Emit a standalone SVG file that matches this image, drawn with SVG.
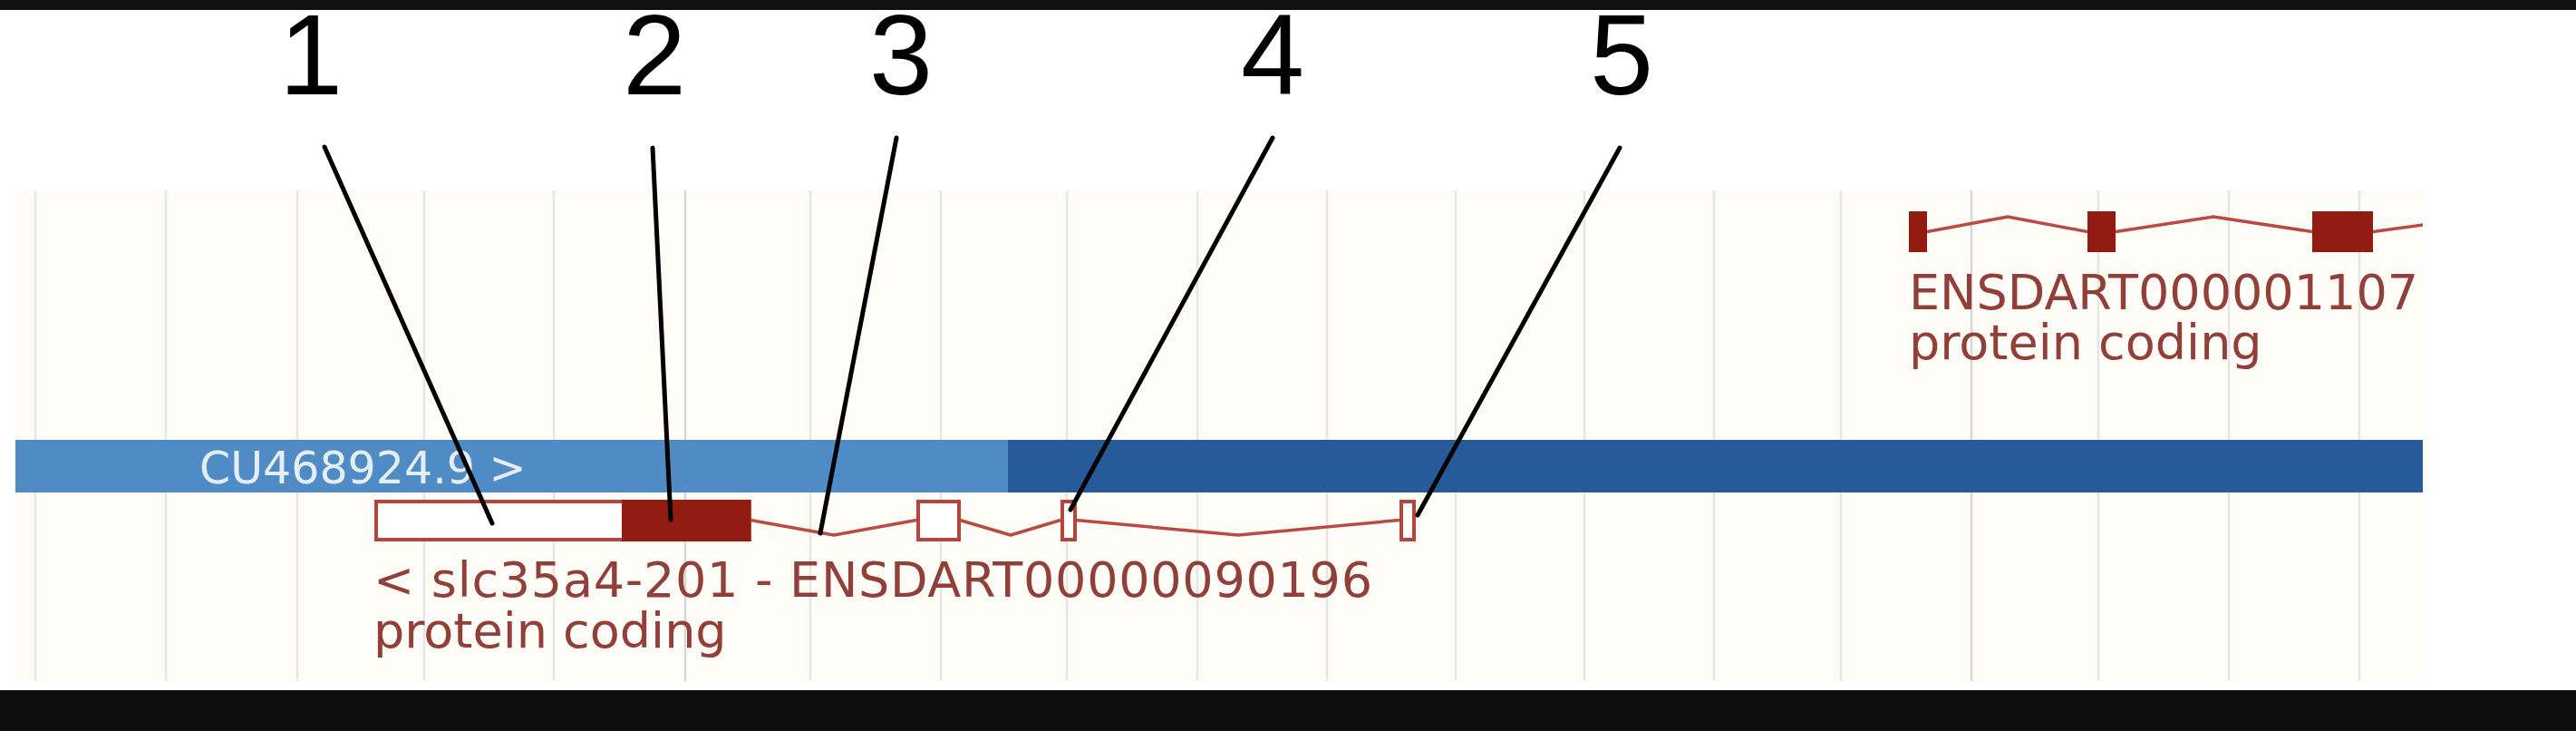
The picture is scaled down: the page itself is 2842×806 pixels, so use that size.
<svg xmlns="http://www.w3.org/2000/svg" width="2842" height="806" viewBox="0 0 2842 806">
  <defs>
    <style>
      .grid { stroke: #e5e6e8; stroke-width: 2.5; }
      .grid-major { stroke: #d5d7db; stroke-width: 2.5; }
      .exon { fill: #931c12; }
      .utr { fill: #ffffff; stroke: #b5463e; stroke-width: 4; }
      .intron { fill: none; stroke: #b84c45; stroke-width: 3.5; stroke-linejoin: round; }
      .tlabel { font-family: "DejaVu Sans", Verdana, sans-serif; font-size: 54px; fill: #923e39; }
      .blabel { font-family: "DejaVu Sans", Verdana, sans-serif; font-size: 49px; fill: #ffffff; fill-opacity: 0.85; }
      .num { font-family: "Liberation Sans", Arial, sans-serif; font-size: 126px; fill: #000000; text-anchor: middle; }
      .leader { stroke: #000000; stroke-width: 5; stroke-linecap: round; fill: none; }
    </style>
    <clipPath id="panelClip">
      <rect x="17" y="210" width="2656" height="541"/>
    </clipPath>
  </defs>

  <rect x="0" y="0" width="2842" height="806" fill="#ffffff"/>
  <rect x="0" y="0" width="2842" height="11" fill="#111111"/>
  <rect x="0" y="761" width="2842" height="45" fill="#0e0e0e"/>

  <g id="panel">
    <rect x="17" y="210" width="2656" height="541" fill="#fdfcf6"/>
    <g id="grid">
      <line class="grid" x1="39" y1="210" x2="39" y2="751"/>
      <line class="grid" x1="183" y1="210" x2="183" y2="751"/>
      <line class="grid" x1="328" y1="210" x2="328" y2="751"/>
      <line class="grid" x1="468" y1="210" x2="468" y2="751"/>
      <line class="grid" x1="611" y1="210" x2="611" y2="751"/>
      <line class="grid-major" x1="756" y1="210" x2="756" y2="751"/>
      <line class="grid" x1="894" y1="210" x2="894" y2="751"/>
      <line class="grid" x1="1038" y1="210" x2="1038" y2="751"/>
      <line class="grid" x1="1177" y1="210" x2="1177" y2="751"/>
      <line class="grid" x1="1321" y1="210" x2="1321" y2="751"/>
      <line class="grid" x1="1464" y1="210" x2="1464" y2="751"/>
      <line class="grid" x1="1606" y1="210" x2="1606" y2="751"/>
      <line class="grid" x1="1748" y1="210" x2="1748" y2="751"/>
      <line class="grid" x1="1891" y1="210" x2="1891" y2="751"/>
      <line class="grid" x1="2031" y1="210" x2="2031" y2="751"/>
      <line class="grid-major" x1="2175" y1="210" x2="2175" y2="751"/>
      <line class="grid" x1="2315" y1="210" x2="2315" y2="751"/>
      <line class="grid" x1="2459" y1="210" x2="2459" y2="751"/>
      <line class="grid" x1="2603" y1="210" x2="2603" y2="751"/>
    </g>
  </g>

  <g id="contig-CU468924">
    <rect x="17" y="485" width="1095" height="58" fill="#4f8cc6"/>
    <rect x="1112" y="485" width="1561" height="58" fill="#265a98"/>
    <text class="blabel" x="220" y="533">CU468924.9 &gt;</text>
  </g>

  <g id="transcript-ENSDART00000090196">
    <path class="intron" d="M828,573.5 L920,590 L1011,573.5 M1059,573.5 L1115,590 L1170,573.5 M1187,573.5 L1366,590 L1544,573.5"/>
    <rect class="utr" x="415" y="553" width="412" height="42"/>
    <rect class="exon" x="686" y="551" width="142" height="46"/>
    <rect class="utr" x="1013" y="553" width="45" height="42"/>
    <rect class="utr" x="1172" y="553" width="14" height="42"/>
    <rect class="utr" x="1546" y="553" width="14" height="42"/>
    <text class="tlabel" x="412" y="658" textLength="1102" lengthAdjust="spacing">&lt; slc35a4-201 - ENSDART00000090196</text>
    <text class="tlabel" x="412" y="714">protein coding</text>
  </g>

  <g id="transcript-ENSDART000001107" clip-path="url(#panelClip)">
    <path class="intron" d="M2126,255.5 L2215,239 L2303,255.5 M2334,255.5 L2442,239 L2551,255.5 M2618,255.5 L2680,247"/>
    <rect class="exon" x="2106" y="233" width="20" height="45"/>
    <rect class="exon" x="2303" y="233" width="31" height="45"/>
    <rect class="exon" x="2551" y="233" width="67" height="45"/>
    <text class="tlabel" x="2106" y="341">ENSDART000001107</text>
    <text class="tlabel" x="2106" y="396">protein coding</text>
  </g>

  <g id="callout-numbers">
    <text id="num-1" class="num" x="343" y="104">1</text>
    <text id="num-2" class="num" x="722" y="104">2</text>
    <text id="num-3" class="num" x="994" y="104">3</text>
    <text id="num-4" class="num" x="1404" y="104">4</text>
    <text id="num-5" class="num" x="1789" y="104">5</text>
  </g>

  <g id="connectors">
    <line class="leader" x1="358" y1="162" x2="543" y2="577"/>
    <line class="leader" x1="720" y1="163" x2="740" y2="573"/>
    <line class="leader" x1="989" y1="152" x2="905" y2="588"/>
    <line class="leader" x1="1404" y1="152" x2="1181" y2="562"/>
    <line class="leader" x1="1787" y1="163" x2="1564" y2="568"/>
  </g>
</svg>
